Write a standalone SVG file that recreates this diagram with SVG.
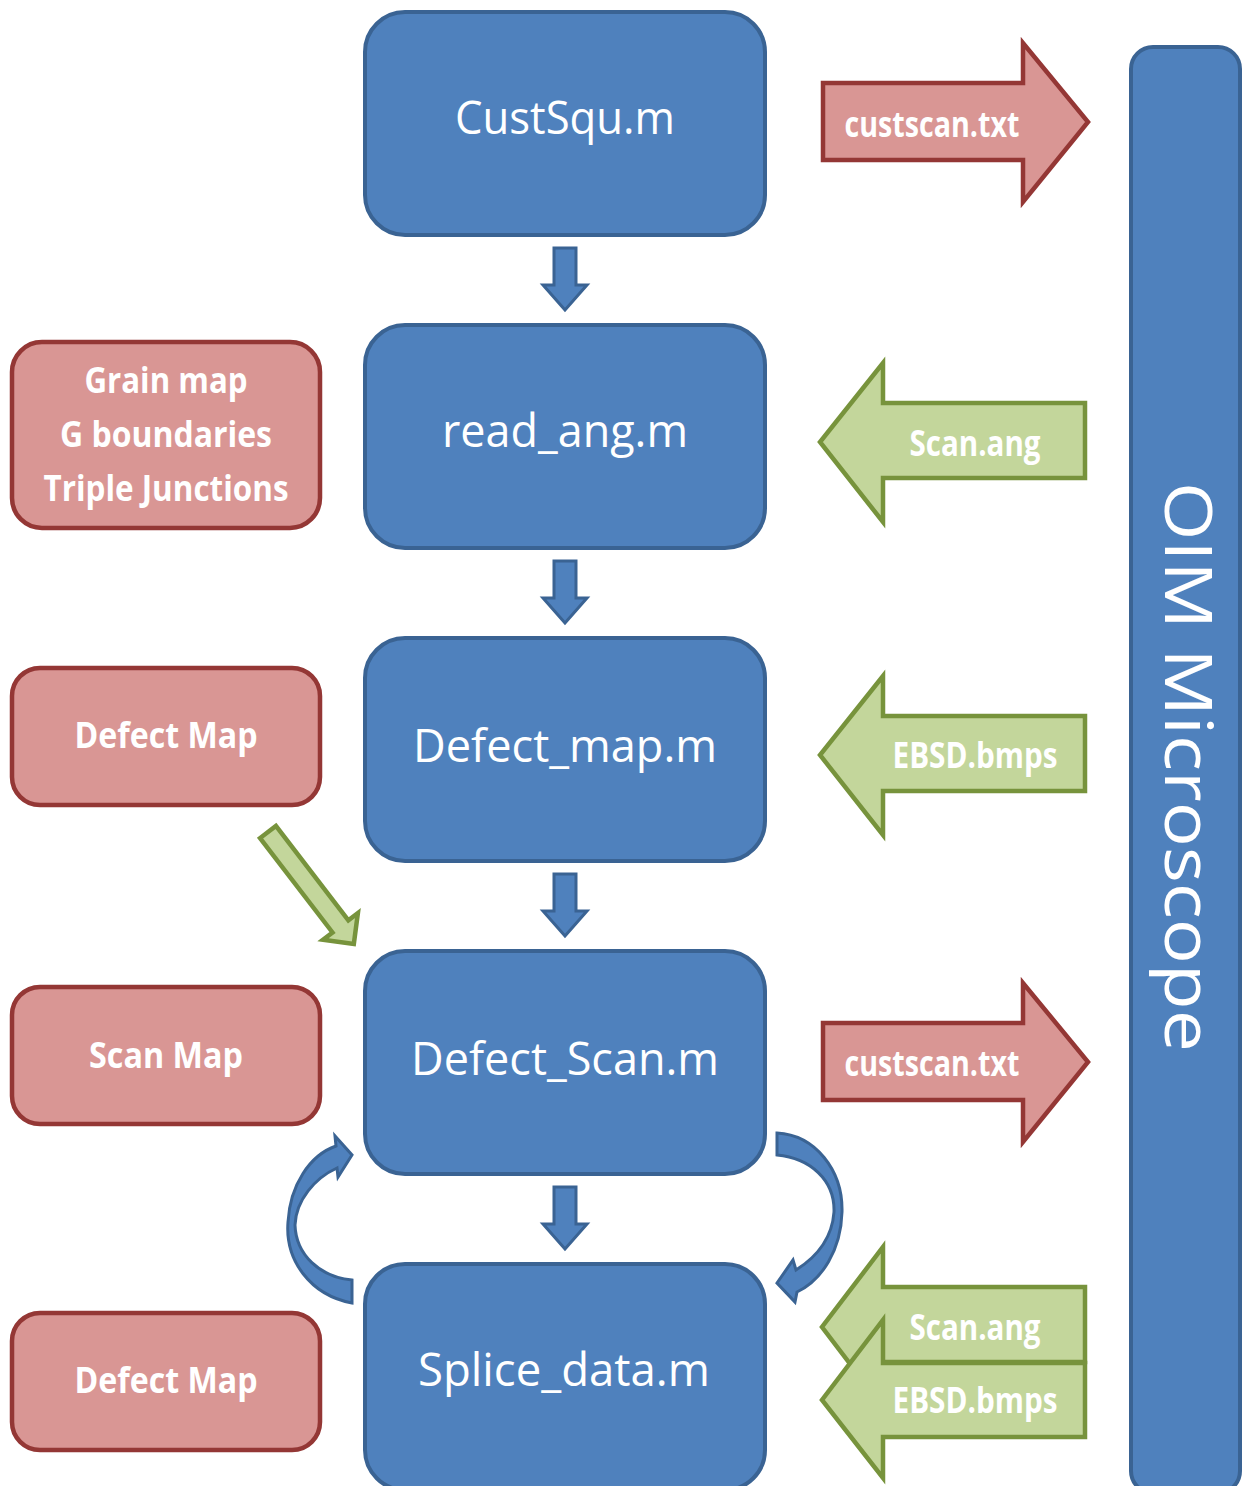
<svg xmlns="http://www.w3.org/2000/svg" width="1244" height="1486" viewBox="0 0 1244 1486">
<style>
.blue{fill:#4f81bd;stroke:#3a6393;stroke-width:4}
.red{fill:#d99694;stroke:#943735;stroke-width:4.5}
.green{fill:#c3d69b;stroke:#77933c;stroke-width:4.5}
.bt{font-family:"Open Sans","Liberation Sans",sans-serif;font-size:46px;fill:#fff;text-anchor:middle}
.lt{font-family:"Open Sans","Liberation Sans",sans-serif;font-size:35px;font-weight:bold;fill:#fff;text-anchor:middle}
.conn{fill:#4f81bd;stroke:#3a6393;stroke-width:3;stroke-linejoin:miter}
</style>
<defs>
<polygon id="down" points="554,0 576,0 576,37 587,37 565,62 543,37 554,37"/>
</defs>
<rect width="1244" height="1486" fill="#fff"/>

<g id="node-custsqu">
<rect class="blue" x="365" y="12" width="400" height="223" rx="40"/>
<text class="bt" x="565" y="134" textLength="220" lengthAdjust="spacingAndGlyphs">CustSqu.m</text>
</g>
<g id="node-readang">
<rect class="blue" x="365" y="325" width="400" height="223" rx="40"/>
<text class="bt" x="565" y="447" textLength="246" lengthAdjust="spacingAndGlyphs">read_ang.m</text>
</g>
<g id="node-defectmap">
<rect class="blue" x="365" y="638" width="400" height="223" rx="40"/>
<text class="bt" x="565" y="762" textLength="304" lengthAdjust="spacingAndGlyphs">Defect_map.m</text>
</g>
<g id="node-defectscan">
<rect class="blue" x="365" y="951" width="400" height="223" rx="40"/>
<text class="bt" x="565" y="1075" textLength="308" lengthAdjust="spacingAndGlyphs">Defect_Scan.m</text>
</g>
<g id="node-splice">
<rect class="blue" x="365" y="1264" width="400" height="226" rx="40"/>
<text class="bt" x="564" y="1386" textLength="292" lengthAdjust="spacingAndGlyphs">Splice_data.m</text>
</g>

<g id="node-oim">
<rect class="blue" x="1131" y="47" width="109" height="1446" rx="22"/>
<text transform="translate(1165,767) rotate(90)" x="0" y="0" font-family="'Open Sans','Liberation Sans',sans-serif" font-size="66" fill="#fff" text-anchor="middle" textLength="570" lengthAdjust="spacingAndGlyphs">OIM Microscope</text>
</g>

<g id="node-grainmap">
<rect class="red" x="12" y="342" width="308" height="186" rx="30"/>
<text class="lt" x="166" y="393" textLength="163" lengthAdjust="spacingAndGlyphs">Grain map</text>
<text class="lt" x="166" y="447" textLength="212" lengthAdjust="spacingAndGlyphs">G boundaries</text>
<text class="lt" x="166" y="501" textLength="245" lengthAdjust="spacingAndGlyphs">Triple Junctions</text>
</g>
<g id="node-defectmap-out">
<rect class="red" x="12" y="668" width="308" height="137" rx="28"/>
<text class="lt" x="166" y="748" textLength="183" lengthAdjust="spacingAndGlyphs">Defect Map</text>
</g>
<g id="node-scanmap">
<rect class="red" x="12" y="987" width="308" height="137" rx="28"/>
<text class="lt" x="166" y="1068" textLength="154" lengthAdjust="spacingAndGlyphs">Scan Map</text>
</g>
<g id="node-defectmap-out2">
<rect class="red" x="12" y="1313" width="308" height="137" rx="28"/>
<text class="lt" x="166" y="1393" textLength="183" lengthAdjust="spacingAndGlyphs">Defect Map</text>
</g>

<g id="node-custscan1">
<polygon class="red" points="823,83 1023,83 1023,43 1088,122 1023,202 1023,160 823,160"/>
<text class="lt" x="932" y="137" textLength="175" lengthAdjust="spacingAndGlyphs">custscan.txt</text>
</g>
<g id="node-custscan2">
<polygon class="red" points="823,1023 1023,1023 1023,983 1088,1062 1023,1142 1023,1100 823,1100"/>
<text class="lt" x="932" y="1076" textLength="175" lengthAdjust="spacingAndGlyphs">custscan.txt</text>
</g>
<g id="node-scanang1">
<polygon class="green" points="1085,403 883,403 883,363 820,442 883,522 883,478 1085,478"/>
<text class="lt" x="975" y="456" textLength="131" lengthAdjust="spacingAndGlyphs">Scan.ang</text>
</g>
<g id="node-ebsd1">
<polygon class="green" points="1085,716 883,716 883,676 820,755 883,835 883,791 1085,791"/>
<text class="lt" x="975" y="768" textLength="165" lengthAdjust="spacingAndGlyphs">EBSD.bmps</text>
</g>
<g id="node-scanang2">
<polygon class="green" points="1085,1287 883,1287 883,1247 822,1327 883,1407 883,1362 1085,1362"/>
<text class="lt" x="975" y="1340" textLength="131" lengthAdjust="spacingAndGlyphs">Scan.ang</text>
</g>
<g id="node-ebsd2">
<polygon class="green" points="1085,1363 883,1363 883,1320 822,1400 883,1478 883,1437 1085,1437"/>
<text class="lt" x="975" y="1413" textLength="165" lengthAdjust="spacingAndGlyphs">EBSD.bmps</text>
</g>

<g id="connectors">
<use href="#down" class="conn" y="248"/>
<use href="#down" class="conn" y="561"/>
<use href="#down" class="conn" y="874"/>
<use href="#down" class="conn" y="1187"/>
<polygon class="green" transform="translate(268,832) rotate(52.5)" points="0,-10 119,-10 119,-22 141,0 119,22 119,10 0,10"/>
<path class="conn" d="M352,1303 C310,1295 285,1260 288,1222 C290,1185 310,1155 336,1146 L335,1136 L352,1155 L338,1177 L337,1168 C315,1178 296,1200 295,1225 C296,1255 320,1277 352,1280 Z"/>
<path class="conn" d="M777,1133 C815,1135 843,1170 842,1212 C841,1250 822,1280 797,1292 L795,1302 L777,1283 L793,1260 L796,1270 C815,1258 832,1240 834,1212 C835,1180 810,1158 777,1155 Z"/>
</g>
</svg>
